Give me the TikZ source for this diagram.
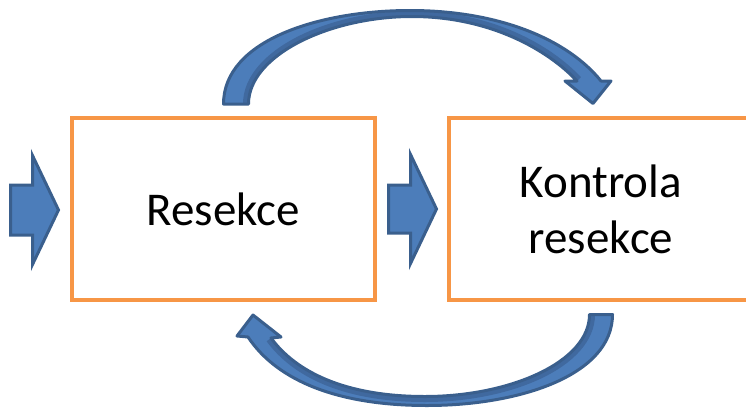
\documentclass[tikz,border=0pt]{standalone}
\usepackage{fontspec}
\setmainfont{Carlito}
\definecolor{boxor}{HTML}{F79646}
\definecolor{arrfill}{HTML}{4C7DBA}
\definecolor{arrline}{HTML}{3A5F8D}
\definecolor{arrdark}{HTML}{40699F}
\begin{document}
\begin{tikzpicture}[x=1pt,y=-1pt,
  procbox/.style={draw=boxor, line width=4pt, fill=white, line join=miter,
    minimum width=303.5pt, minimum height=182pt, inner sep=0pt,
    font=\fontsize{47}{56}\selectfont, align=center},
  blockarrow/.style={fill=arrfill, draw=arrline, line width=3pt, line join=miter},
  curvearrow/.style={fill=arrfill, draw=arrline, line width=3pt, line join=round},
  darkband/.style={draw=arrdark, line width=11pt}]
\useasboundingbox (0,0) rectangle (746,407);

% boxes
\node[procbox] (res) at (223.25,209) {Resekce};
\node[procbox] (kon) at (601,209) {Kontrola\\resekce};

% straight block arrows
\coordinate (inarr) at (9,210);
\coordinate (midarr) at (387,209);
\draw[blockarrow,shift={(inarr)}] (1.5,-25) -- (23.5,-25) -- (23.5,-54.5) -- (49.5,0)
  -- (23.5,54.5) -- (23.5,25) -- (1.5,25) -- cycle;
\draw[blockarrow,shift={(midarr)}] (1.5,-24) -- (23.5,-24) -- (23.5,-54.5) -- (49.5,0)
  -- (23.5,54.5) -- (23.5,24) -- (1.5,24) -- cycle;

% top curved arrow
\begin{scope}
  \fill[arrfill] (223.5,104) .. controls (223.5,40) and (320,10.5) .. (410,10.5)
    .. controls (500,10.5) and (568,40) .. (601,81) -- (611,81) -- (593,103.5) -- (565,81) -- (577,81)
    .. controls (548,50) and (490,16.5) .. (412,16.5)
    .. controls (330,16.5) and (248.5,55) .. (248.5,104) -- cycle;
  \clip (223.5,104) .. controls (223.5,40) and (320,10.5) .. (410,10.5)
    .. controls (500,10.5) and (568,40) .. (601,81) -- (577,81)
    .. controls (548,50) and (490,16.5) .. (412,16.5)
    .. controls (330,16.5) and (248.5,55) .. (248.5,104) -- cycle;
  \draw[darkband] (248.5,104) .. controls (248.5,55) and (330,16.5) .. (412,16.5)
    .. controls (490,16.5) and (548,50) .. (577,81);
\end{scope}
\draw[curvearrow,fill=none] (223.5,104) .. controls (223.5,40) and (320,10.5) .. (410,10.5)
    .. controls (500,10.5) and (568,40) .. (601,81) -- (611,81) -- (593,103.5) -- (565,81) -- (577,81)
    .. controls (548,50) and (490,16.5) .. (412,16.5)
    .. controls (330,16.5) and (248.5,55) .. (248.5,104) -- cycle;

% bottom curved arrow
\begin{scope}
  \fill[arrfill] (612.5,314.5) .. controls (612.5,375) and (520,405.5) .. (427,405.5)
    .. controls (340,405.5) and (278,382) .. (248,337) -- (237,336) -- (253,315) -- (281,337) -- (271,338)
    .. controls (296,372) and (345,396.5) .. (425,396.5)
    .. controls (510,396.5) and (589.5,362) .. (589.5,314.5) -- cycle;
  \clip (612.5,314.5) .. controls (612.5,375) and (520,405.5) .. (427,405.5)
    .. controls (340,405.5) and (278,382) .. (248,337) -- (271,338)
    .. controls (296,372) and (345,396.5) .. (425,396.5)
    .. controls (510,396.5) and (589.5,362) .. (589.5,314.5) -- cycle;
  \draw[darkband] (589.5,314.5) .. controls (589.5,362) and (510,396.5) .. (425,396.5)
    .. controls (345,396.5) and (296,372) .. (271,338);
\end{scope}
\draw[curvearrow,fill=none] (612.5,314.5) .. controls (612.5,375) and (520,405.5) .. (427,405.5)
    .. controls (340,405.5) and (278,382) .. (248,337) -- (237,336) -- (253,315) -- (281,337) -- (271,338)
    .. controls (296,372) and (345,396.5) .. (425,396.5)
    .. controls (510,396.5) and (589.5,362) .. (589.5,314.5) -- cycle;
\end{tikzpicture}
\end{document}
